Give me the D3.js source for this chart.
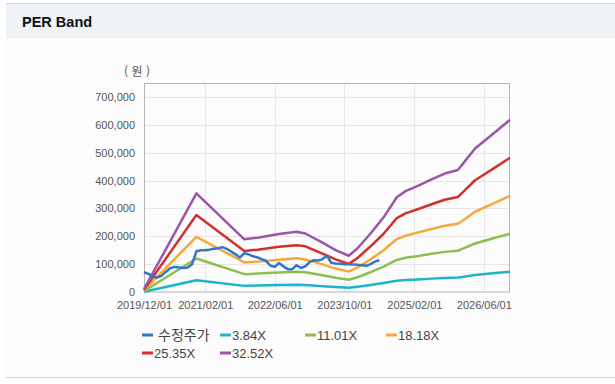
<!DOCTYPE html>
<html lang="ko">
<head>
<meta charset="utf-8">
<title>PER Band</title>
<script src="https://d3js.org/d3.v7.min.js"></script>
<style>
    body {
        margin: 0;
        padding: 0;
        background: #ffffff;
        font-family: "Liberation Sans", Arial, sans-serif;
    }
    .grid line { stroke: #e6e6e6; stroke-width: 1px; }
    .axis text { fill: #555; font-size: 11px; }
    .axis path, .axis line { display: none; }
    .band { fill: none; stroke-width: 2.5px; stroke-linejoin: round; }
    .legend text { fill: #444; font-size: 13px; }
</style>
</head>
<body>
<svg id="chart" width="615" height="384"></svg>
<script>
    // month-end band points (원)
    const bandDates = ["2019-12", "2020-12", "2021-11", "2022-02", "2022-07", "2022-11", "2023-01",
        "2023-05", "2023-08", "2023-11", "2024-01", "2024-04", "2024-07", "2024-10", "2024-12",
        "2025-03", "2025-06", "2025-09", "2025-12", "2026-01", "2026-04", "2026-08", "2026-12"];

    const band384 = [1000, 42000, 22000, 23000, 25000, 26000, 25000, 21000, 18000, 15000, 19000, 25000,
        32000, 40000, 43000, 45000, 48000, 50000, 52000, 54000, 61000, 67000, 73000];
    const band1101 = [3000, 120000, 64000, 66000, 70000, 73000, 71000, 60000, 51000, 44000, 53000, 71000,
        91000, 115000, 123000, 129000, 137000, 144000, 148000, 155000, 174000, 192000, 209000];
    const band1818 = [6000, 198000, 106000, 109000, 116000, 121000, 117000, 99000, 84000, 73000, 88000, 117000,
        150000, 190000, 202000, 214000, 226000, 238000, 245000, 255000, 288000, 316000, 345000];
    const band2535 = [8000, 276000, 147000, 152000, 162000, 168000, 164000, 138000, 117000, 101000, 122000, 164000,
        209000, 265000, 282000, 298000, 315000, 331000, 341000, 356000, 401000, 441000, 482000];
    const band3252 = [10000, 354000, 189000, 195000, 208000, 216000, 210000, 177000, 150000, 130000, 157000, 210000,
        268000, 340000, 362000, 382000, 404000, 425000, 438000, 457000, 515000, 566000, 618000];

    // adjusted price, monthly from 2019-12
    const priceDates = ["2019-12", "2020-01", "2020-02", "2020-03", "2020-04", "2020-05", "2020-06", "2020-07",
        "2020-08", "2020-09", "2020-10", "2020-11", "2020-12", "2021-01", "2021-02", "2021-03", "2021-04",
        "2021-05", "2021-06", "2021-07", "2021-08", "2021-09", "2021-10", "2021-11", "2021-12", "2022-01",
        "2022-02", "2022-03", "2022-04", "2022-05", "2022-06", "2022-07", "2022-08", "2022-09", "2022-10",
        "2022-11", "2022-12", "2023-01", "2023-02", "2023-03", "2023-04", "2023-05", "2023-06", "2023-07",
        "2023-08", "2023-09", "2023-10", "2023-11", "2023-12", "2024-01", "2024-02", "2024-03", "2024-04",
        "2024-05", "2024-06"];
    const price = [71000, 65000, 55000, 52000, 58000, 72000, 85000, 90000, 88000, 86000, 88000, 100000,
        146000, 150000, 150000, 152000, 155000, 157000, 161000, 155000, 145000, 135000, 124000, 139000,
        135000, 128000, 124000, 118000, 112000, 95000, 90000, 104000, 92000, 82000, 82000, 96000, 86000,
        92000, 108000, 114000, 113000, 118000, 130000, 105000, 102000, 101000, 100000, 100000, 99000,
        98000, 96000, 94000, 100000, 109000, 114000];

    const seriesNames = ["수정주가", "3.84X", "11.01X", "18.18X", "25.35X", "32.52X"];
    const seriesColors = ["#3375c8", "#1db4c9", "#8cbf4e", "#f6a83b", "#d1302c", "#9a56a8"];
    const xTicks = ["2019-12-01", "2021-02-01", "2022-06-01", "2023-10-01", "2025-02-01", "2026-06-01"];
    const yTicks = [0, 100000, 200000, 300000, 400000, 500000, 600000, 700000];

    const parseMonth = d3.timeParse("%Y-%m");
    const parseDay = d3.timeParse("%Y-%m-%d");

    const svg = d3.select("#chart");

    // panel: header bar + body
    svg.append("rect").attr("x", 6).attr("y", 4).attr("width", 609).attr("height", 373).attr("fill", "#fcfcfd");
    svg.append("rect").attr("x", 6).attr("y", 4).attr("width", 609).attr("height", 34).attr("fill", "#eff2f7");
    svg.append("line").attr("x1", 6).attr("x2", 615).attr("y1", 3.5).attr("y2", 3.5).attr("stroke", "#d4d4d4");
    svg.append("line").attr("x1", 6).attr("x2", 615).attr("y1", 377.5).attr("y2", 377.5).attr("stroke", "#d0d0d0");
    svg.append("text").attr("x", 22).attr("y", 27)
        .style("font-size", "14.5px").style("font-weight", "bold").attr("fill", "#111")
        .text("PER Band");

    const x = d3.scaleTime()
        .domain([parseDay("2019-12-01"), parseDay("2026-12-01")])
        .range([144, 510]);
    const y = d3.scaleLinear()
        .domain([0, 750000])
        .range([292, 83]);

    // grid
    const grid = svg.append("g").attr("class", "grid");
    grid.selectAll("line.h").data(yTicks.slice(1)).enter().append("line")
        .attr("x1", 144).attr("x2", 510)
        .attr("y1", d => Math.round(y(d)) + 0.5).attr("y2", d => Math.round(y(d)) + 0.5);
    grid.selectAll("line.v").data(xTicks.slice(1)).enter().append("line")
        .attr("y1", 83).attr("y2", 292)
        .attr("x1", d => Math.round(x(parseDay(d))) + 0.5).attr("x2", d => Math.round(x(parseDay(d))) + 0.5);

    svg.append("rect").attr("x", 144.5).attr("y", 83.5).attr("width", 365).attr("height", 208.5)
        .attr("fill", "none").attr("stroke", "#b4b4b4");

    // axes
    svg.append("g").attr("class", "axis")
        .attr("transform", "translate(144,0)")
        .call(d3.axisLeft(y).tickValues(yTicks).tickFormat(d3.format(",")).tickSize(0).tickPadding(9));
    svg.append("g").attr("class", "axis")
        .attr("transform", "translate(0,292)")
        .call(d3.axisBottom(x).tickValues(xTicks.map(parseDay)).tickFormat(d3.timeFormat("%Y/%m/%d"))
            .tickSize(0).tickPadding(9));

    svg.append("text").attr("x", 137).attr("y", 76).attr("text-anchor", "middle")
        .style("font-family", "'Noto Sans CJK KR', sans-serif").style("font-size", "12px").attr("fill", "#555")
        .text("( 원 )");

    const line = d3.line()
        .x(d => x(d.date))
        .y(d => y(d.value));

    const bands = [band384, band1101, band1818, band2535, band3252];
    const plot = svg.append("g");

    bands.forEach((vals, i) => {
        const data = vals.map((v, j) => ({ date: parseMonth(bandDates[j]), value: v }));
        plot.append("path").datum(data).attr("class", "band")
            .attr("stroke", seriesColors[i + 1]).attr("d", line);
    });

    const priceData = price.map((v, j) => ({ date: parseMonth(priceDates[j]), value: v }));
    plot.append("path").datum(priceData).attr("class", "band")
        .attr("stroke", seriesColors[0]).attr("d", line);

    // legend
    const legendPos = [[142, 335], [220, 335], [305, 335], [386, 335], [142, 353], [220, 353]];
    const legend = svg.append("g").attr("class", "legend");
    seriesNames.forEach((name, i) => {
        const [lx, ly] = legendPos[i];
        legend.append("line").attr("x1", lx).attr("x2", lx + 11).attr("y1", ly).attr("y2", ly)
            .attr("stroke", seriesColors[i]).attr("stroke-width", 3);
        legend.append("text").attr("x", i === 0 ? lx + 16 : lx + 12).attr("y", ly + 5)
            .style("font-family", i === 0 ? "'Noto Sans CJK KR', sans-serif" : null)
            .style("font-size", i === 0 ? "14px" : "13px")
            .text(name);
    });
</script>
</body>
</html>
